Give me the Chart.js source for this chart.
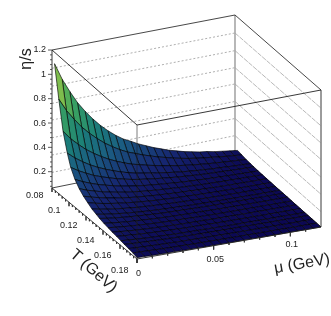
<!DOCTYPE html>
<html>
<head>
<meta charset="utf-8">
<title>eta/s surface</title>
<script src="https://cdn.jsdelivr.net/npm/chart.js@4"></script>
<style>
  html, body { margin: 0; padding: 0; background: #fff; }
  canvas { display: block; }
</style>
</head>
<body>
<canvas id="surfaceChart" width="331" height="316"></canvas>
<script>
// Data
const tempGrid = [0.083, 0.088, 0.093, 0.098, 0.102, 0.107, 0.112, 0.117, 0.122, 0.127, 0.132,
  0.136, 0.141, 0.146, 0.151, 0.156, 0.161, 0.165, 0.170, 0.175, 0.180];
const muGrid = [0, 0.005, 0.01, 0.015, 0.02, 0.025, 0.03, 0.035, 0.04, 0.045, 0.05, 0.055, 0.06,
  0.065, 0.07, 0.075, 0.08, 0.085, 0.09, 0.095, 0.1, 0.105, 0.11, 0.115, 0.12];
// one row per temperature, one column per mu
const etaOverS = [
  [1.106,.966,.853,.750,.666,.591,.525,.468,.418,.375,.343,.309,.281,.253,.230,.206,.188,.169,.155,.141,.132,.118,.109,.099,.090],
  [.844,.739,.655,.578,.515,.459,.409,.367,.329,.297,.273,.248,.227,.206,.189,.171,.157,.143,.133,.122,.115,.105,.098,.091,.084],
  [.609,.536,.477,.423,.379,.340,.305,.276,.250,.227,.210,.193,.178,.164,.152,.139,.130,.120,.113,.105,.100,.093,.088,.083,.078],
  [.460,.407,.364,.325,.293,.265,.240,.218,.199,.183,.171,.158,.148,.137,.128,.119,.112,.105,.100,.094,.091,.086,.082,.079,.075],
  [.366,.326,.293,.263,.239,.218,.198,.182,.167,.155,.146,.136,.128,.120,.113,.107,.101,.096,.092,.088,.085,.081,.078,.076,.073],
  [.296,.265,.240,.217,.199,.182,.167,.155,.144,.134,.127,.120,.114,.107,.102,.097,.093,.089,.086,.083,.080,.078,.075,.073,.071],
  [.249,.224,.205,.186,.172,.158,.147,.137,.128,.120,.115,.109,.104,.099,.095,.091,.087,.084,.082,.079,.078,.075,.074,.072,.070],
  [.216,.196,.180,.165,.153,.142,.132,.124,.117,.111,.106,.101,.097,.093,.090,.086,.084,.081,.079,.077,.075,.074,.072,.071,.069],
  [.192,.175,.161,.149,.139,.130,.122,.115,.109,.103,.100,.095,.092,.089,.086,.083,.081,.078,.077,.075,.074,.072,.071,.070,.069],
  [.169,.155,.144,.134,.125,.118,.111,.106,.101,.097,.093,.090,.087,.085,.082,.080,.078,.076,.075,.073,.072,.071,.070,.069,.068],
  [.155,.143,.133,.125,.117,.111,.105,.100,.096,.092,.090,.087,.084,.082,.080,.078,.076,.075,.074,.072,.072,.070,.070,.069,.068],
  [.144,.133,.125,.117,.111,.105,.100,.096,.092,.089,.087,.084,.082,.080,.078,.077,.075,.074,.073,.072,.071,.070,.069,.068,.068],
  [.133,.124,.117,.110,.105,.100,.096,.092,.089,.086,.084,.082,.080,.078,.077,.075,.074,.073,.072,.071,.070,.069,.069,.068,.068],
  [.126,.118,.111,.105,.101,.096,.092,.089,.086,.084,.082,.080,.078,.077,.075,.074,.073,.072,.071,.070,.070,.069,.068,.068,.067],
  [.118,.111,.105,.100,.096,.092,.089,.086,.084,.081,.080,.078,.077,.075,.074,.073,.072,.071,.070,.070,.069,.069,.068,.068,.067],
  [.113,.107,.102,.097,.093,.090,.087,.084,.082,.080,.079,.077,.076,.074,.073,.072,.071,.071,.070,.069,.069,.068,.068,.068,.067],
  [.106,.101,.096,.092,.089,.086,.084,.081,.080,.078,.077,.075,.074,.073,.072,.071,.071,.070,.069,.069,.069,.068,.068,.067,.067],
  [.100,.095,.092,.088,.086,.083,.081,.079,.077,.076,.075,.074,.073,.072,.071,.071,.070,.069,.069,.068,.068,.068,.067,.067,.067],
  [.094,.090,.087,.084,.082,.080,.078,.077,.075,.074,.073,.073,.072,.071,.070,.070,.069,.069,.068,.068,.068,.067,.067,.067,.067],
  [.088,.085,.083,.080,.079,.077,.076,.075,.073,.073,.072,.071,.071,.070,.069,.069,.069,.068,.068,.068,.067,.067,.067,.067,.066],
  [.077,.076,.074,.073,.072,.072,.071,.070,.070,.069,.069,.069,.068,.068,.068,.068,.067,.067,.067,.067,.067,.067,.066,.066,.066]
];

// Axis ticks
const tempTicks = [0.08, 0.1, 0.12, 0.14, 0.16, 0.18];
const tempLabels = ["0.08", "0.1", "0.12", "0.14", "0.16", "0.18"];
const tempMinor = [0.084, 0.088, 0.092, 0.096, 0.104, 0.108, 0.112, 0.116, 0.124, 0.128, 0.132, 0.136,
  0.144, 0.148, 0.152, 0.156, 0.164, 0.168, 0.172, 0.176];
const muTicks = [0, 0.05, 0.1];
const muLabels = ["0", "0.05", "0.1"];
const muMinor = [0.01, 0.02, 0.03, 0.04, 0.06, 0.07, 0.08, 0.09, 0.11];
const etaTicks = [0.2, 0.4, 0.6, 0.8, 1, 1.2];
const etaLabels = ["0.2", "0.4", "0.6", "0.8", "1", "1.2"];
const etaMinor = [0.08, 0.12, 0.16, 0.24, 0.28, 0.32, 0.36, 0.44, 0.48, 0.52, 0.56, 0.64, 0.68, 0.72, 0.76,
  0.84, 0.88, 0.92, 0.96, 1.04, 1.08, 1.12, 1.16];
const wallGrid = [0.194, 0.337, 0.479, 0.625, 0.761, 0.903, 1.05];

// Axis ranges
const tempRange = [0.08, 0.18];
const muRange = [0, 0.12];
const etaRange = [0.066, 1.2];

// Box corners on the page: left, back, front, right
const floorCorners = { l: [52, 188], b: [235, 151], f: [137, 259], r: [321, 227] };
const roofCorners = { l: [52, 50], b: [235, 15], f: [137, 125], r: [321, 90] };

// Colour ramp, low to high
const palette = [
  [0, 12, 8, 84],
  [0.1, 22, 38, 112],
  [0.25, 27, 92, 130],
  [0.4, 27, 128, 120],
  [0.6, 60, 165, 95],
  [0.85, 172, 206, 64],
  [1, 228, 222, 48]
];

function colorFor(z) {
  const h = (z - etaRange[0]) / (etaRange[1] - etaRange[0]);
  for (let i = 1; i < palette.length; i++) {
    if (h <= palette[i][0]) {
      const a = palette[i - 1], b = palette[i];
      const f = (h - a[0]) / (b[0] - a[0]);
      const c = [1, 2, 3].map(k => Math.round(a[k] + (b[k] - a[k]) * f));
      return `rgb(${c[0]},${c[1]},${c[2]})`;
    }
  }
  return "rgb(228,222,48)";
}

// (T, mu, eta/s) to a position in the flat scales
function project(T, mu, z) {
  const t = (T - tempRange[0]) / (tempRange[1] - tempRange[0]);
  const m = (mu - muRange[0]) / (muRange[1] - muRange[0]);
  const h = (z - etaRange[0]) / (etaRange[1] - etaRange[0]);
  const mix = (c, k) => c.l[k] * (1 - t) * (1 - m) + c.f[k] * t * (1 - m) + c.b[k] * (1 - t) * m + c.r[k] * t * m;
  return {
    x: mix(floorCorners, 0) * (1 - h) + mix(roofCorners, 0) * h,
    y: mix(floorCorners, 1) * (1 - h) + mix(roofCorners, 1) * h
  };
}

function lineSet(points, color, width, dash) {
  return {
    data: points,
    showLine: true,
    fill: false,
    pointRadius: 0,
    borderColor: color,
    borderWidth: width,
    borderDash: dash || [],
    tension: 0
  };
}

const [tMin, tMax] = tempRange;
const [mMin, mMax] = muRange;
const [zMin, zMax] = etaRange;

// Listed back to front, reversed below because Chart.js paints the first dataset last
const marks = [];

// back walls
wallGrid.forEach(z => {
  marks.push(lineSet([project(tMin, mMin, z), project(tMin, mMax, z)], "#9a9a9a", 0.8, [2, 2]));
  marks.push(lineSet([project(tMin, mMax, z), project(tMax, mMax, z)], "#999999", 0.7, [5, 1]));
});
marks.push(lineSet([project(tMin, mMax, zMin), project(tMin, mMax, zMax)], "#a6a6a6", 1.6));
marks.push(lineSet([project(tMin, mMin, zMin), project(tMin, mMax, zMin)], "#333333", 0.9));
marks.push(lineSet([project(tMin, mMax, zMin), project(tMax, mMax, zMin)], "#333333", 0.9));
marks.push(lineSet([project(tMin, mMin, zMax), project(tMin, mMax, zMax)], "#333333", 0.9));
marks.push(lineSet([project(tMin, mMax, zMax), project(tMax, mMax, zMax)], "#333333", 0.9));

// surface cells, far corner first
for (let i = 0; i < tempGrid.length - 1; i++) {
  for (let j = muGrid.length - 2; j >= 0; j--) {
    const z = [etaOverS[i][j], etaOverS[i][j + 1], etaOverS[i + 1][j + 1], etaOverS[i + 1][j]];
    const mean = (z[0] + z[1] + z[2] + z[3]) / 4;
    const corners = [
      project(tempGrid[i], muGrid[j], z[0]),
      project(tempGrid[i], muGrid[j + 1], z[1]),
      project(tempGrid[i + 1], muGrid[j + 1], z[2]),
      project(tempGrid[i + 1], muGrid[j], z[3])
    ];
    marks.push({
      data: [...corners, corners[0]],
      showLine: true,
      fill: "shape",
      backgroundColor: colorFor(mean),
      borderColor: "rgba(0,0,0,0.85)",
      borderWidth: 0.75,
      pointRadius: 0,
      tension: 0
    });
  }
}

// front of the box, over the surface
marks.push(lineSet([project(tMax, mMin, zMin), project(tMax, mMin, zMax)], "rgba(30,30,30,0.65)", 0.9));
marks.push(lineSet([project(tMax, mMax, zMin), project(tMax, mMax, zMax)], "#222222", 0.9));
marks.push(lineSet([project(tMin, mMin, zMax), project(tMax, mMin, zMax)], "#222222", 0.9));
marks.push(lineSet([project(tMax, mMin, zMax), project(tMax, mMax, zMax)], "#222222", 0.9));

// drawn axes
marks.push(lineSet([project(tMin, mMin, zMin), project(tMin, mMin, zMax)], "#222222", 0.9));
marks.push(lineSet([project(tMin, mMin, zMin), project(tMax, mMin, zMin)], "#222222", 0.9));
marks.push(lineSet([project(tMax, mMin, zMin), project(tMax, mMax, zMin)], "#222222", 0.9));

function tickSet(base, dx, dy) {
  return lineSet([base, { x: base.x + dx, y: base.y + dy }], "#333333", 0.8);
}
tempTicks.forEach(v => marks.push(tickSet(project(v, mMin, zMin), 0, 4)));
tempMinor.forEach(v => marks.push(tickSet(project(v, mMin, zMin), 0, 2)));
muTicks.forEach(v => marks.push(tickSet(project(tMax, v, zMin), 0, 4)));
muMinor.forEach(v => marks.push(tickSet(project(tMax, v, zMin), 0, 2)));
etaTicks.forEach(v => marks.push(tickSet(project(tMin, mMin, v), -4, 0)));
etaMinor.forEach(v => marks.push(tickSet(project(tMin, mMin, v), -2, 0)));

// Tick labels and titles
const axisText = {
  id: "axisText",
  afterDraw(chart) {
    const { ctx, scales } = chart;
    const put = (text, p, dx, dy, align) => {
      ctx.textAlign = align;
      ctx.fillText(text, scales.x.getPixelForValue(p.x) + dx, scales.y.getPixelForValue(p.y) + dy);
    };
    const title = (text, x, y, angle) => {
      ctx.save();
      ctx.translate(x, y);
      ctx.rotate(angle * Math.PI / 180);
      ctx.textAlign = "center";
      ctx.fillText(text, 0, 0);
      ctx.restore();
    };
    ctx.save();
    ctx.fillStyle = "#222222";
    ctx.textBaseline = "middle";
    ctx.font = '9px "Liberation Sans"';
    etaTicks.forEach((v, i) => put(etaLabels[i], project(tMin, mMin, v), -6, 0, "right"));
    tempTicks.forEach((v, i) => put(tempLabels[i], project(v, mMin, zMin), -8.5, 7.7 + i * 0.8, "right"));
    muTicks.forEach((v, i) => put(muLabels[i], project(tMax, v, zMin), 1.5, 15 - i * 1.3, "center"));
    ctx.font = '16px "Liberation Sans"';
    title("η/s", 27, 59, -90);
    title("T (GeV)", 93.5, 271, 41);
    title("μ (GeV)", 302, 264, -10);
    ctx.restore();
  }
};

const surfaceConfig = {
  type: "scatter",
  data: { datasets: marks.reverse() },
  options: {
    responsive: false,
    animation: false,
    events: [],
    layout: { padding: 0 },
    plugins: { legend: { display: false }, tooltip: { enabled: false } },
    scales: {
      x: { type: "linear", min: 0, max: 331, display: false },
      y: { type: "linear", min: 0, max: 316, reverse: true, display: false }
    }
  },
  plugins: [axisText]
};

const surfaceChart = new Chart(document.getElementById("surfaceChart").getContext("2d"), surfaceConfig);
</script>
</body>
</html>
